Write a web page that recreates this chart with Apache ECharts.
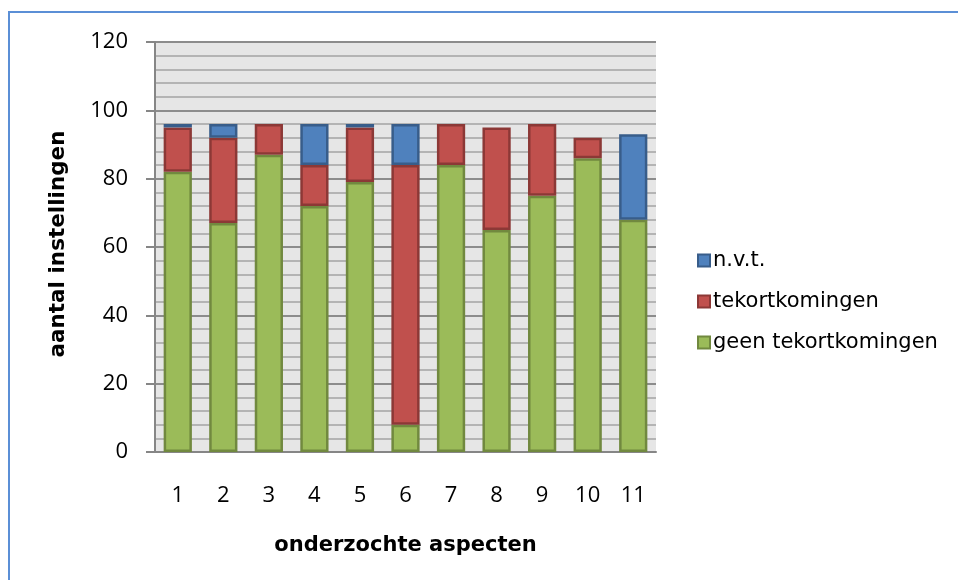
<!DOCTYPE html>
<html>
<head>
<meta charset="utf-8">
<script src="https://cdn.jsdelivr.net/npm/echarts@6/dist/echarts.min.js"></script>
<style>html,body{margin:0;padding:0;background:#fff;}#c{width:958px;height:580px;}</style>
</head>
<body>
<div id="c"></div>
<script>
const categories = ['1','2','3','4','5','6','7','8','9','10','11'];
const geenTekortkomingen = [82, 67, 87, 72, 79, 8, 84, 65, 75, 86, 68];
const tekortkomingen = [13, 25, 9, 12, 16, 76, 12, 30, 21, 6, null];
const nvt = [1, 4, null, 12, 1, 12, null, null, null, null, 25];
const yTicks = [0, 20, 40, 60, 80, 100, 120];

const chart = echarts.init(document.getElementById('c'));
const numFont = 'Open Sans';
const txtFont = 'DejaVu Sans';
function barSeries(name, data, color, border) {
  return {
    name: name, type: 'bar', stack: 'total', data: data,
    barCategoryGap: '38%',
    itemStyle: { color: color, borderColor: border, borderWidth: 2.5 },
    emphasis: { disabled: true }
  };
}
chart.setOption({
  animation: false,
  graphic: [{
    type: 'rect', shape: { x: 9, y: 12, width: 970, height: 600 },
    style: { fill: 'none', stroke: '#5B8FD6', lineWidth: 2 }, z: -10
  }],
  grid: { left: 155, right: 302, top: 42, bottom: 128, show: true, backgroundColor: '#E6E6E6', borderWidth: 0 },
  legend: {
    orient: 'vertical', left: 692, top: 245,
    itemWidth: 12, itemHeight: 12, itemGap: 20,
    icon: 'rect',
    textStyle: { fontFamily: txtFont, fontSize: 21, color: '#000', padding: [0, 0, 0, -2] },
    data: ['n.v.t.', 'tekortkomingen', 'geen tekortkomingen']
  },
  xAxis: {
    type: 'category', data: categories,
    name: 'onderzochte aspecten', nameLocation: 'middle', nameGap: 83,
    nameTextStyle: { fontFamily: txtFont, fontSize: 21, fontWeight: 'bold', color: '#000' },
    axisLine: { show: true, lineStyle: { color: '#868686', width: 2 } },
    axisTick: { show: false },
    axisLabel: { fontFamily: numFont, fontSize: 22, color: '#000', margin: 33 },
    splitLine: { show: false }
  },
  yAxis: {
    type: 'value', min: 0, max: 120, interval: 20,
    name: 'aantal instellingen', nameLocation: 'middle', nameGap: 86,
    nameTextStyle: { fontFamily: txtFont, fontSize: 21.5, fontWeight: 'bold', color: '#000', padding: [0, 0, 0, 6] },
    axisLine: { show: true, lineStyle: { color: '#868686', width: 2 } },
    axisTick: { show: true, length: 9, lineStyle: { color: '#868686', width: 2 } },
    axisLabel: { fontFamily: numFont, fontSize: 22, color: '#000', margin: 27,
      formatter: function (v) { return yTicks.indexOf(v) >= 0 ? String(v) : ''; } },
    splitLine: { show: true, lineStyle: { color: '#8C8C8C', width: 2 } },
    minorTick: { show: false, splitNumber: 5 },
    minorSplitLine: { show: true, lineStyle: { color: '#B4B4B4', width: 2 } }
  },
  series: [
    barSeries('geen tekortkomingen', geenTekortkomingen, '#9BBB59', '#71893F'),
    barSeries('tekortkomingen', tekortkomingen, '#C0504D', '#8C3836'),
    barSeries('n.v.t.', nvt, '#4F81BD', '#385D8A')
  ]
});
</script>
</body>
</html>
